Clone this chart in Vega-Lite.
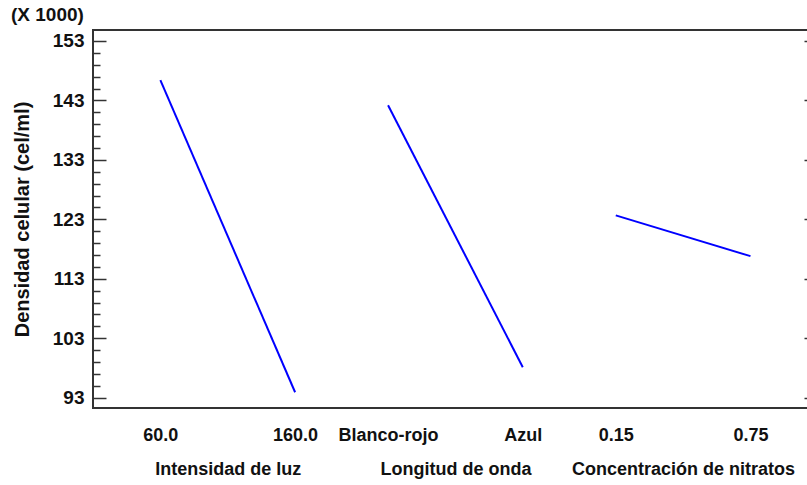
{
  "$schema": "https://vega.github.io/schema/vega-lite/v6.json",
  "width": 715,
  "height": 378,
  "autosize": {"type": "none"},
  "padding": {"left": 93, "top": 30, "right": 0, "bottom": 77},
  "background": "white",
  "title": {
    "text": "(X 1000)",
    "anchor": "start",
    "frame": "group",
    "dx": -82,
    "offset": 5,
    "fontSize": 19,
    "font": "Liberation Sans",
    "fontWeight": "bold",
    "color": "#111"
  },
  "config": {
    "view": {"stroke": "#333", "strokeWidth": 2},
    "axis": {
      "labelFont": "Liberation Sans",
      "titleFont": "Liberation Sans",
      "labelFontWeight": "bold",
      "titleFontWeight": "bold",
      "labelColor": "#111",
      "titleColor": "#111",
      "tickColor": "#333",
      "tickWidth": 1.5,
      "domain": false,
      "grid": false
    }
  },
  "data": {
    "values": [
      {"factor": "Intensidad de luz", "level": "60.0", "pos": 0.5, "density": 146.43},
      {"factor": "Intensidad de luz", "level": "160.0", "pos": 1.5, "density": 93.9},
      {"factor": "Longitud de onda", "level": "Blanco-rojo", "pos": 2.19, "density": 142.2},
      {"factor": "Longitud de onda", "level": "Azul", "pos": 3.19, "density": 98.1},
      {"factor": "Concentración de nitratos", "level": "0.15", "pos": 3.88, "density": 123.66},
      {"factor": "Concentración de nitratos", "level": "0.75", "pos": 4.88, "density": 116.8}
    ]
  },
  "resolve": {"axis": {"y": "independent"}},
  "layer": [
    {
      "mark": {"type": "line", "color": "#0000ff", "strokeWidth": 2},
      "encoding": {
        "detail": {"field": "factor"},
        "x": {
          "field": "pos",
          "type": "quantitative",
          "scale": {"domain": [0, 5.307], "nice": false, "zero": false},
          "axis": {
            "title": null,
            "orient": "bottom",
            "ticks": false,
            "values": [0.5, 1, 1.5, 2.19, 2.69, 3.19, 3.88, 4.38, 4.88],
            "labelExpr": "datum.value == 0.5 ? '60.0' : datum.value == 1.5 ? '160.0' : datum.value == 2.19 ? 'Blanco-rojo' : datum.value == 3.19 ? 'Azul' : datum.value == 3.88 ? '0.15' : datum.value == 4.88 ? '0.75' : datum.value == 1 ? ['', 'Intensidad de luz'] : datum.value == 2.69 ? ['', 'Longitud de onda'] : ['', 'Concentración de nitratos']",
            "labelFontSize": 18,
            "labelPadding": 18,
            "labelLineHeight": 34,
            "labelLimit": 0,
            "labelOverlap": false,
            "labelFlush": false,
            "labelBound": false,
            "labelBaseline": "top"
          }
        },
        "y": {
          "field": "density",
          "type": "quantitative",
          "scale": {"domain": [91.25, 154.85], "nice": false, "zero": false},
          "axis": {
            "orient": "left",
            "title": "Densidad celular (cel/ml)",
            "titleFontSize": 20,
            "titlePadding": 20,
            "values": [93, 103, 113, 123, 133, 143, 153],
            "tickSize": -13,
            "labelPadding": 22,
            "labelFontSize": 19
          }
        }
      }
    },
    {
      "mark": {"type": "line", "strokeOpacity": 0},
      "encoding": {
        "detail": {"field": "factor"},
        "x": {"field": "pos", "type": "quantitative"},
        "y": {
          "field": "density",
          "type": "quantitative",
          "axis": {
            "orient": "left",
            "title": null,
            "labels": false,
            "values": [95, 97, 99, 101, 105, 107, 109, 111, 115, 117, 119, 121, 125, 127, 129, 131, 135, 137, 139, 141, 145, 147, 149, 151],
            "tickSize": -7
          }
        }
      }
    },
    {
      "mark": {"type": "line", "strokeOpacity": 0},
      "encoding": {
        "detail": {"field": "factor"},
        "x": {"field": "pos", "type": "quantitative"},
        "y": {
          "field": "density",
          "type": "quantitative",
          "axis": {
            "orient": "right",
            "title": null,
            "labels": false,
            "values": [93, 103, 113, 123, 133, 143, 153],
            "tickSize": -4
          }
        }
      }
    }
  ]
}
